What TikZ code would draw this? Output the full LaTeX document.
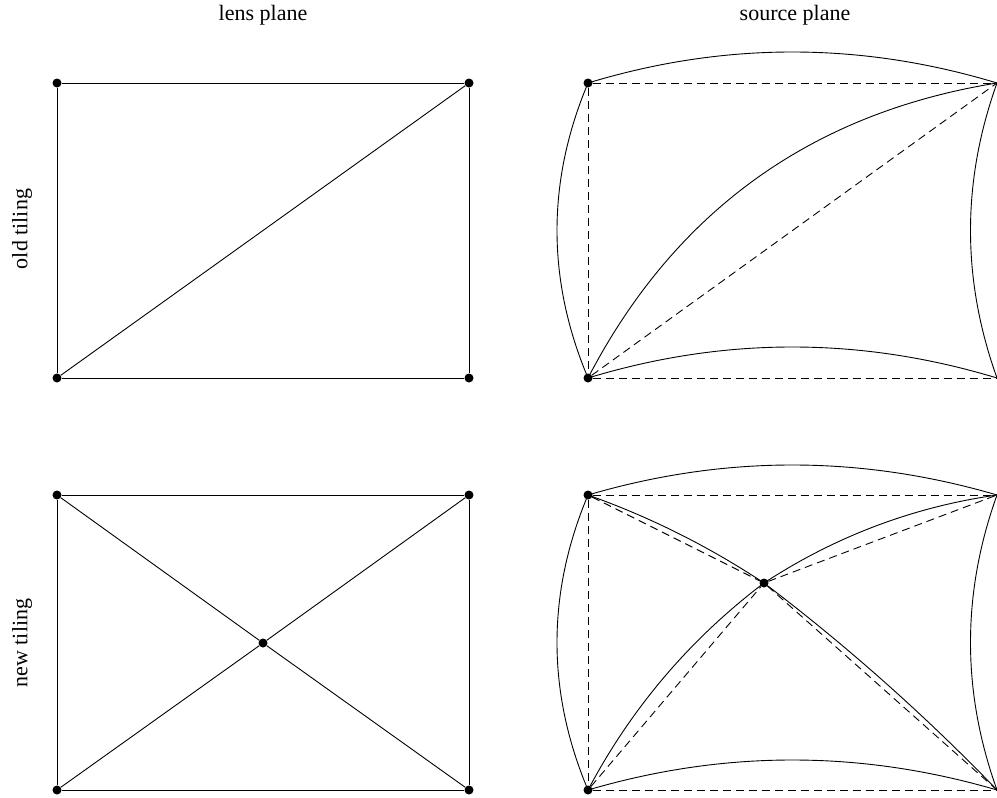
\documentclass[tikz,border=0pt]{standalone}
\usepackage{fontspec}
\setmainfont{Liberation Serif}
\usetikzlibrary{calc}
\begin{document}
\begin{tikzpicture}[x=1pt,y=-1pt,
  edge/.style={line width=0.9pt},
  dashedge/.style={line width=0.9pt, dash pattern=on 8pt off 5pt},
  dot/.style={circle, fill=black, inner sep=0pt, minimum size=9pt},
  lbl/.style={font=\fontsize{22}{26}\selectfont, inner sep=0pt}]
\useasboundingbox (0,0) rectangle (997,798);
\clip (0,0) rectangle (997,798);
% quadratic curve helper: #1 start, #2 control, #3 end
\def\qcurve#1#2#3{\draw[edge] (#1) .. controls ($(#1)!0.6667!(#2)$) and ($(#3)!0.6667!(#2)$) .. (#3);}

% labels
\node[lbl] (tl) at (263,15) {lens plane};
\node[lbl] (ts) at (795,15) {source plane};
\node[lbl, rotate=90] (lo) at (22,229) {old tiling};
\node[lbl, rotate=90] (ln) at (22,643) {new tiling};

% ---- lens plane, old tiling
\node[dot] (a1) at (57,83) {};
\node[dot] (b1) at (469,83) {};
\node[dot] (c1) at (57,378) {};
\node[dot] (d1) at (469,378) {};
\draw[edge] (a1) -- (b1) -- (d1) -- (c1) -- (a1);
\draw[edge] (c1) -- (b1);

% ---- lens plane, new tiling
\node[dot] (a2) at (57,495) {};
\node[dot] (b2) at (469,495) {};
\node[dot] (c2) at (57,790) {};
\node[dot] (d2) at (469,790) {};
\node[dot] (e2) at (263,643) {};
\draw[edge] (a2) -- (b2) -- (d2) -- (c2) -- (a2);
\draw[edge] (a2) -- (e2) -- (d2);
\draw[edge] (c2) -- (e2) -- (b2);

% ---- source plane, old tiling
\node[dot] (a3) at (588,83) {};
\coordinate (b3) at (997,83);
\node[dot] (c3) at (588,378) {};
\coordinate (d3) at (997,378);
\draw[dashedge] (a3) -- (b3);
\draw[dashedge] (a3) -- (c3);
\draw[dashedge] (c3) -- (d3);
\draw[dashedge] (c3) -- (b3);
\qcurve{a3.center}{792,21}{b3}
\qcurve{a3.center}{526,230.5}{c3.center}
\qcurve{c3.center}{792,316}{d3}
\qcurve{b3}{944,230.5}{d3}
\qcurve{c3.center}{718,128}{b3}

% ---- source plane, new tiling
\node[dot] (a4) at (588,495) {};
\coordinate (b4) at (997,495);
\node[dot] (c4) at (588,790) {};
\coordinate (d4) at (997,790);
\node[dot] (e4) at (764,583) {};
\draw[dashedge] (a4) -- (b4);
\draw[dashedge] (a4) -- (c4);
\draw[dashedge] (c4) -- (d4);
\draw[dashedge] (a4) -- (e4);
\draw[dashedge] (e4) -- (b4);
\draw[dashedge] (c4) -- (e4);
\draw[dashedge] (e4) -- (d4);
\qcurve{a4.center}{792,435}{b4}
\qcurve{a4.center}{526,642.5}{c4.center}
\qcurve{c4.center}{792,730}{d4}
\qcurve{b4}{944,642.5}{d4}
\qcurve{a4.center}{681,528}{e4.center}
\qcurve{e4.center}{871,513}{b4}
\qcurve{c4.center}{653,667}{e4.center}
\qcurve{e4.center}{888.5,677.5}{d4}
\end{tikzpicture}
\end{document}
